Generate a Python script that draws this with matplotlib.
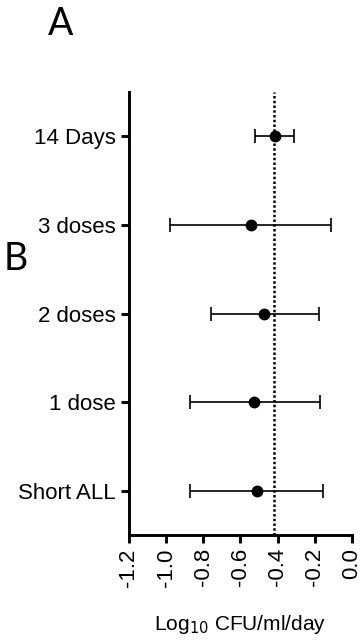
import matplotlib
matplotlib.use("Agg")
import matplotlib.pyplot as plt
import numpy as np

groups = ["Short ALL", "1 dose", "2 doses", "3 doses", "14 Days"]
means = [-0.512, -0.525, -0.471, -0.545, -0.415]
lower = [-0.870, -0.873, -0.758, -0.981, -0.521]
upper = [-0.155, -0.173, -0.180, -0.112, -0.313]
overall = -0.419
xticks = [-1.2, -1.0, -0.8, -0.6, -0.4, -0.2, 0.0]

plt.rcParams["font.family"] = ["Liberation Sans", "DejaVu Sans"]

fig = plt.figure(figsize=(3.6, 6.41), dpi=100)
ax = fig.add_axes([0.358, 0.1654, 0.62, 0.691])

y = np.arange(len(groups))
means = np.array(means)
err = [means - np.array(lower), np.array(upper) - means]
ax.errorbar(means, y, xerr=err, fmt="o", color="black", ms=7.5,
            elinewidth=1.2, capsize=5, capthick=1.2, zorder=3)
ax.axvline(overall, color="black", ls=(0, (1, 0.9)), lw=1.8, zorder=2)

ax.set_xlim(-1.2, 0.0)
ax.set_ylim(-0.5, 4.5)
ax.set_yticks(y)
ax.set_yticklabels(groups, fontsize=16)
ax.set_xticks(xticks)
ax.set_xticklabels(["%.1f" % v for v in xticks], rotation=90, fontsize=16)
ax.set_xlabel("Log$_{10}$ CFU/ml/day", fontsize=15)
ax.xaxis.set_label_coords(0.5, -0.203)
ax.xaxis.label.set_va("center")

for s in ["top", "right"]:
    ax.spines[s].set_visible(False)
for s in ["left", "bottom"]:
    ax.spines[s].set_linewidth(2.1)
ax.tick_params(width=2.1, length=6)

fig.text(61 / 360, 1 - 24 / 641, "A", fontsize=27, family="Lato", ha="center", va="center")
fig.text(16 / 360, 1 - 259 / 641, "B", fontsize=27, family="Lato", ha="center", va="center")

fig.savefig("out.png", dpi=100)
